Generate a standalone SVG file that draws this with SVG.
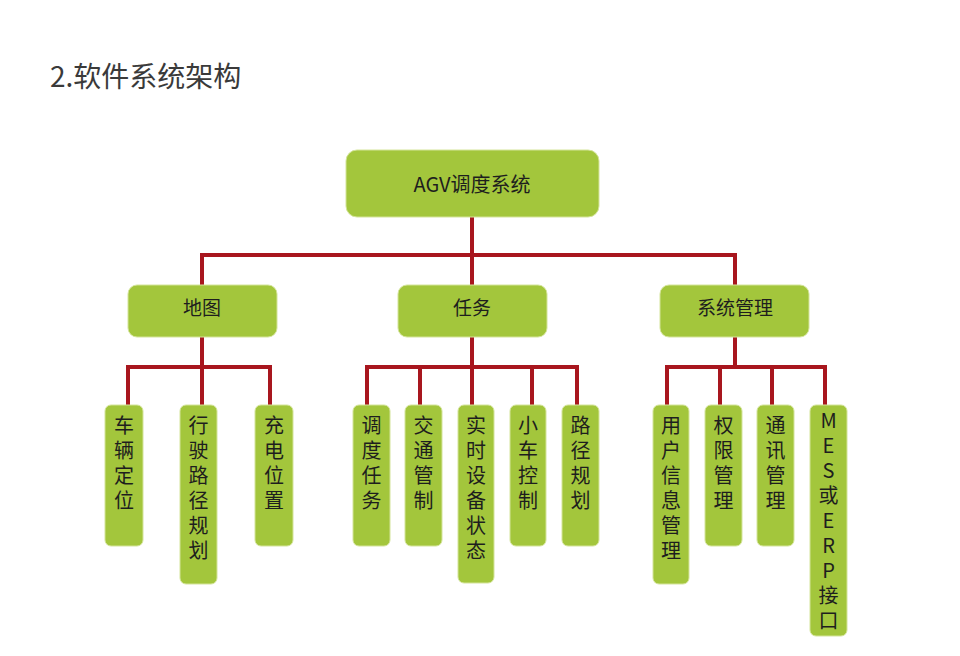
<svg xmlns="http://www.w3.org/2000/svg" width="960" height="656" viewBox="0 0 960 656">
<style>
.box{fill:#a3c63c;stroke:#d4e49a;stroke-width:1}
.t{font-family:"Noto Sans CJK SC","Liberation Sans",sans-serif;fill:#1e1e1e;text-anchor:middle}
.mid{font-size:19px}
.v{font-family:"Noto Sans CJK SC","Liberation Sans",sans-serif;fill:#1e1e1e;font-size:20px;writing-mode:vertical-rl;text-orientation:upright;letter-spacing:5px}
.ln{stroke:#a8161e;stroke-width:4;fill:none;stroke-linecap:square}
</style>
<rect width="960" height="656" fill="#ffffff"/>
<text x="50" y="87" font-family="Noto Sans CJK SC, Liberation Sans, sans-serif" font-size="28" fill="#3a3a3a">2.软件系统架构</text>
<g id="connectors">
<path class="ln" d="M472 217V255M202 255H735M202 255V285M472 255V285M735 255V285"/>
<path class="ln" d="M202 337V367M128 367H270M128 367V405M202 367V405M270 367V405"/>
<path class="ln" d="M472 337V367M367 367H577M367 367V405M420 367V405M472 367V405M532 367V405M577 367V405"/>
<path class="ln" d="M735 337V367M667 367H825M667 367V405M720 367V405M772 367V405M825 367V405"/>
</g>
<g id="root"><rect class="box" x="346" y="150" width="253" height="67" rx="11"/><text class="t" x="472" y="192" font-size="20">AGV调度系统</text></g>
<g id="map"><rect class="box" x="128" y="285" width="149" height="52" rx="9"/><text class="t mid" x="202" y="315">地图</text></g>
<g id="task"><rect class="box" x="398" y="285" width="149" height="52" rx="9"/><text class="t mid" x="472" y="315">任务</text></g>
<g id="sysmgmt"><rect class="box" x="660" y="285" width="149" height="52" rx="9"/><text class="t mid" x="735" y="315">系统管理</text></g>
<g id="leaf1"><rect class="box" x="105" y="405" width="38" height="141" rx="6"/><text class="v" x="124" y="415">车辆定位</text></g>
<g id="leaf2"><rect class="box" x="180" y="405" width="37" height="179" rx="6"/><text class="v" x="198.5" y="415">行驶路径规划</text></g>
<g id="leaf3"><rect class="box" x="255" y="405" width="38" height="141" rx="6"/><text class="v" x="274" y="415">充电位置</text></g>
<g id="leaf4"><rect class="box" x="353" y="405" width="37" height="141" rx="6"/><text class="v" x="371.5" y="415">调度任务</text></g>
<g id="leaf5"><rect class="box" x="405" y="405" width="37" height="141" rx="6"/><text class="v" x="423.5" y="415">交通管制</text></g>
<g id="leaf6"><rect class="box" x="458" y="405" width="36" height="178" rx="6"/><text class="v" x="476" y="415">实时设备状态</text></g>
<g id="leaf7"><rect class="box" x="510" y="405" width="36" height="141" rx="6"/><text class="v" x="528" y="415">小车控制</text></g>
<g id="leaf8"><rect class="box" x="562" y="405" width="37" height="141" rx="6"/><text class="v" x="580.5" y="415">路径规划</text></g>
<g id="leaf9"><rect class="box" x="653" y="405" width="36" height="179" rx="6"/><text class="v" x="671" y="415">用户信息管理</text></g>
<g id="leaf10"><rect class="box" x="705" y="405" width="37" height="141" rx="6"/><text class="v" x="723.5" y="415">权限管理</text></g>
<g id="leaf11"><rect class="box" x="757" y="405" width="37" height="141" rx="6"/><text class="v" x="775.5" y="415">通讯管理</text></g>
<g id="leaf12"><rect class="box" x="810" y="405" width="37" height="231" rx="6"/><text class="v" x="828.5" y="410">MES或ERP接口</text></g>
</svg>
